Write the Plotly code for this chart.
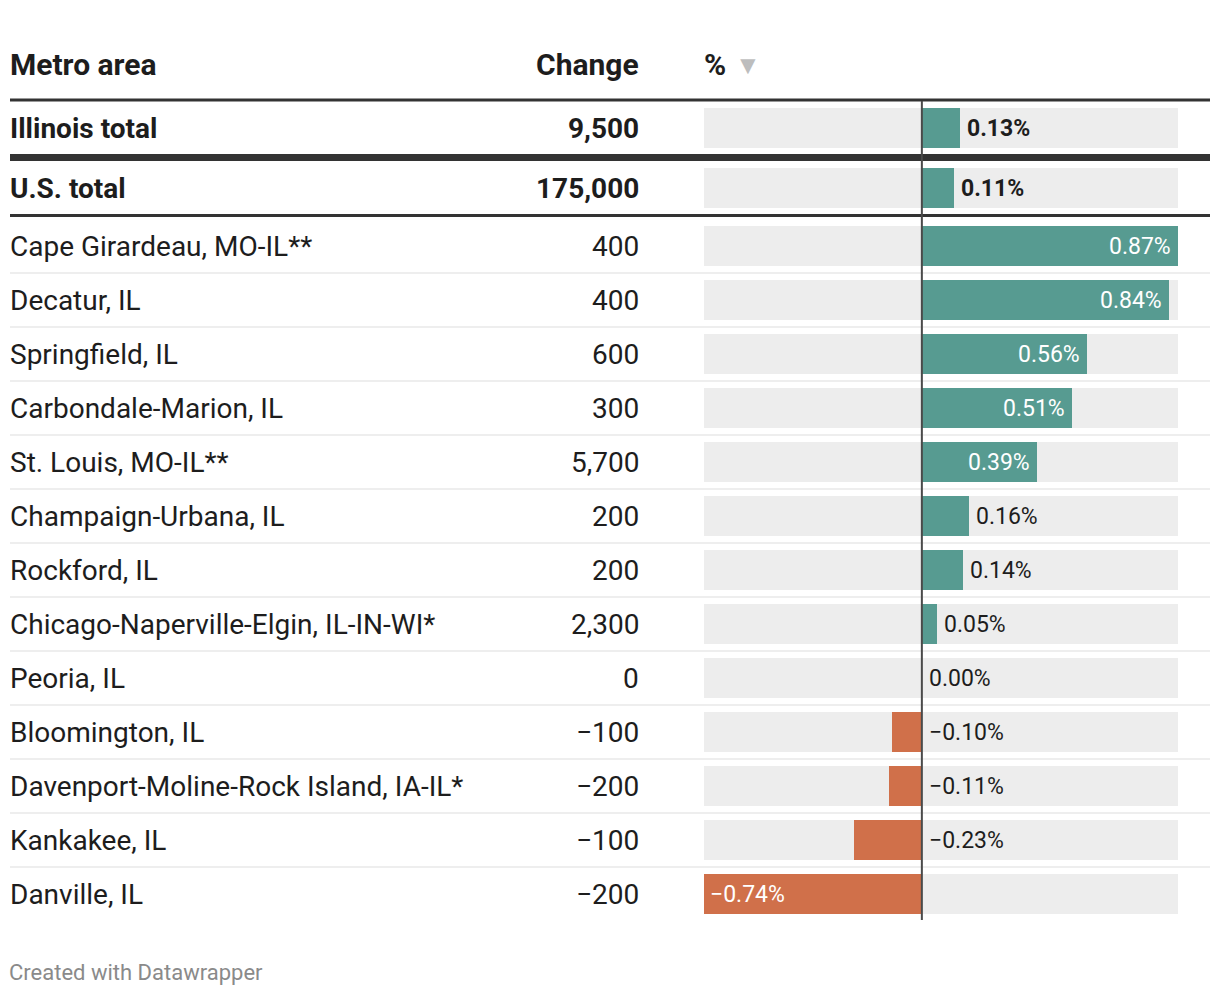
import plotly.graph_objects as go

# ---- data ----
metros = ["Illinois total", "U.S. total", "Cape Girardeau, MO-IL**", "Decatur, IL",
          "Springfield, IL", "Carbondale-Marion, IL", "St. Louis, MO-IL**",
          "Champaign-Urbana, IL", "Rockford, IL", "Chicago-Naperville-Elgin, IL-IN-WI*",
          "Peoria, IL", "Bloomington, IL", "Davenport-Moline-Rock Island, IA-IL*",
          "Kankakee, IL", "Danville, IL"]
changes = [9500, 175000, 400, 400, 600, 300, 5700, 200, 200, 2300, 0, -100, -200, -100, -200]
pct = [0.13, 0.11, 0.87, 0.84, 0.56, 0.51, 0.39, 0.16, 0.14, 0.05, 0.00, -0.10, -0.11, -0.23, -0.74]
bold_rows = [True, True] + [False] * 13
headers = ["Metro area", "Change", "%"]
footer = "Created with Datawrapper"

# ---- layout constants (page pixels; the page body has an 8px margin) ----
OFF = 8
FW, FH = 1204, 980
BAR_L, BAR_R = 704, 1178
TEAL = "#579b91"
ORANGE = "#d0704a"
BG = "#ededed"
TXT = "#1d1d1d"
FONT = "Roboto"

def px(x):
    return (x - OFF) / FW

def py(y):
    return y - OFF

row_y = [128, 188] + [246 + 54 * k for k in range(len(metros) - 2)]
xmin, xmax = min(pct), max(pct)
px_per_unit = (BAR_R - BAR_L) / (xmax - xmin)

def fmt_num(v):
    s = f"{abs(v):,}"
    return ("\u2212" + s) if v < 0 else s

def fmt_pct(v):
    s = f"{abs(v):.2f}%"
    return ("\u2212" + s) if v < 0 else s

fig = go.Figure()

# bars
fig.add_trace(go.Bar(
    x=pct, y=[py(y) for y in row_y], orientation="h", width=40,
    marker=dict(color=[TEAL if v >= 0 else ORANGE for v in pct], line=dict(width=0)),
    hoverinfo="skip", showlegend=False,
))

shapes = []
for y in row_y:
    shapes.append(dict(type="rect", xref="x", yref="y", x0=xmin, x1=xmax,
                       y0=py(y) - 20, y1=py(y) + 20, fillcolor=BG, line=dict(width=0),
                       layer="below"))

def hline(y, color, width):
    shapes.append(dict(type="line", xref="paper", yref="y", x0=px(10), x1=px(1210),
                       y0=py(y), y1=py(y), line=dict(color=color, width=width)))

hline(100, "#333", 3)
hline(157.5, "#333", 7)
hline(215.5, "#333", 3)
for y in row_y[2:-1]:
    hline(y + 27, "#e9e9e9", 1.5)

shapes.append(dict(type="line", xref="x", yref="y", x0=0, x1=0, y0=py(101), y1=py(920),
                   line=dict(color="#4a4a4a", width=2), layer="above"))

ann = []
def add_text(text, x, y, xanchor, size, color=TXT, bold=False, xref="paper", xshift=0):
    ann.append(dict(text=text, x=x, y=py(y), xref=xref, yref="y", xanchor=xanchor,
                    yanchor="middle", showarrow=False, xshift=xshift,
                    font=dict(family=FONT, size=size, color=color,
                              weight="bold" if bold else "normal")))

add_text(headers[0], px(8), 64, "left", 30, bold=True)
add_text(headers[1], px(641), 64, "right", 30, bold=True)
add_text(headers[2], px(702), 64, "left", 30, bold=True)
add_text("\u25BC", px(733), 65, "left", 26, color="#bdbdbd")

for name, ch, v, y, b in zip(metros, changes, pct, row_y, bold_rows):
    add_text(name, px(8), y, "left", 28, bold=b)
    add_text(fmt_num(ch), px(641), y, "right", 28, bold=b)
    length = abs(v) * px_per_unit
    label = fmt_pct(v)
    if length > 90:
        if v >= 0:
            add_text(label, v, y, "right", 23, color="white", xref="x", xshift=-5)
        else:
            add_text(label, v, y, "left", 23, color="white", xref="x", xshift=4)
    else:
        xpos = v if v >= 0 else 0
        add_text(label, xpos, y, "left", 23, bold=b, xref="x", xshift=5)

add_text(footer, px(7), 972, "left", 22, color="#8a8a8a")

fig.update_layout(
    width=FW, height=FH, margin=dict(l=0, r=0, t=0, b=0),
    paper_bgcolor="white", plot_bgcolor="rgba(0,0,0,0)",
    xaxis=dict(domain=[px(BAR_L), px(BAR_R)], range=[xmin, xmax], visible=False,
               fixedrange=True),
    yaxis=dict(domain=[0, 1], range=[FH, 0], visible=False, fixedrange=True),
    shapes=shapes, annotations=ann, bargap=0,
)

fig.write_html("out.html", config={"displayModeBar": False})
